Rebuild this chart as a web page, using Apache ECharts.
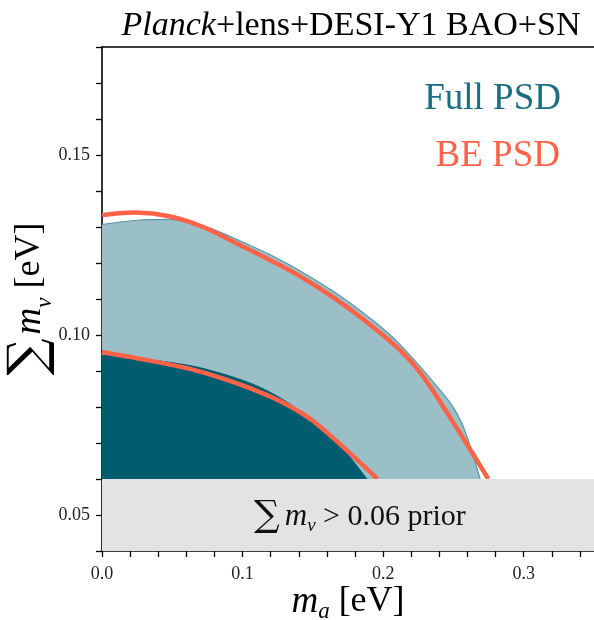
<!DOCTYPE html>
<html>
<head>
<meta charset="utf-8">
<script src="https://cdn.jsdelivr.net/npm/echarts@6/dist/echarts.min.js"></script>
<style>
  html, body { margin: 0; padding: 0; background: #ffffff; }
  #chart { width: 594px; height: 620px; }
</style>
</head>
<body>
<div id="chart"></div>
<script>
// Contour boundaries in the (m_a, sum m_nu) plane, cut at the 0.06 eV prior.
// Full phase-space distribution, 95% region
const fullPsd95 = [
  [0.000, 0.1307], [0.024, 0.1318], [0.048, 0.1321], [0.072, 0.1303],
  [0.098, 0.1262], [0.120, 0.1222], [0.141, 0.1178], [0.165, 0.1120],
  [0.188, 0.1055], [0.205, 0.1000], [0.220, 0.0940], [0.236, 0.0868],
  [0.248, 0.0810], [0.256, 0.0755], [0.262, 0.0690], [0.266, 0.0640],
  [0.269, 0.0600]
];
// Full phase-space distribution, 68% region
const fullPsd68 = [
  [0.000, 0.0944], [0.030, 0.0933], [0.0626, 0.0915], [0.085, 0.0893],
  [0.105, 0.0867], [0.120, 0.0840], [0.135, 0.0805], [0.150, 0.0763],
  [0.164, 0.0716], [0.175, 0.0668], [0.1885, 0.0600]
];
// Bose-Einstein phase-space distribution, 95% boundary
const bePsd95 = [
  [0.000, 0.1333], [0.012, 0.1338], [0.024, 0.1340], [0.048, 0.1330],
  [0.072, 0.1300], [0.098, 0.1250], [0.120, 0.1207], [0.141, 0.1163],
  [0.165, 0.1103], [0.188, 0.1037], [0.212, 0.0958], [0.2286, 0.0884],
  [0.2547, 0.0727], [0.2748, 0.0600]
];
// Bose-Einstein phase-space distribution, 68% boundary
const bePsd68 = [
  [0.000, 0.0953], [0.030, 0.0932], [0.0626, 0.0906], [0.085, 0.0880],
  [0.110, 0.0845], [0.130, 0.0810], [0.150, 0.0762], [0.174, 0.0680],
  [0.196, 0.0600]
];
// Lower edge imposed by the neutrino oscillation prior
const priorEdge = [[0.0, 0.06], [0.35, 0.06]];
const priorLabelAt = [0.1835, 0.0495];

const xLabelTicks = [0.0, 0.1, 0.2, 0.3];
const yLabelTicks = [0.05, 0.10, 0.15];

const SERIF = '"Liberation Serif", "DejaVu Serif", serif';
const OPERATOR = '"DejaVu Serif", "Liberation Serif", serif';
const TEAL_DARK = '#005c6f';
const TEAL_LIGHT = '#9bbfc6';
const TEAL_EDGE = '#5797a6';
const CORAL = '#ff6347';

const chart = echarts.init(document.getElementById('chart'), null, { renderer: 'canvas' });

const isLabelTick = (list, v) => list.some(t => Math.abs(t - v) < 1e-9);

const option = {
  backgroundColor: '#ffffff',
  animation: false,
  grid: { left: 102, right: 0, top: 47, bottom: 69, outerBoundsMode: 'none', containLabel: false },
  xAxis: [
    {
      type: 'value', min: 0, max: 0.35, interval: 0.02, position: 'bottom',
      axisLine: { show: true, lineStyle: { color: '#000', width: 1.6 } },
      axisTick: { show: true, inside: false, length: 6, lineStyle: { color: '#000', width: 1.3 } },
      splitLine: { show: false },
      axisLabel: {
        show: true, margin: 14, color: '#222', fontFamily: SERIF, fontSize: 18,
        showMaxLabel: false,
        formatter: v => isLabelTick(xLabelTicks, v) ? v.toFixed(1) : ''
      },
      name: '{m|m}{sub|a}{n| [eV]}',
      nameLocation: 'middle', nameGap: 30, nameMoveOverlap: false,
      nameTextStyle: {
        rich: {
          m: { fontFamily: SERIF, fontStyle: 'italic', fontSize: 37, color: '#000', lineHeight: 42 },
          sub: { fontFamily: SERIF, fontStyle: 'italic', fontSize: 23, color: '#000', verticalAlign: 'bottom' },
          n: { fontFamily: SERIF, fontSize: 36, color: '#000', lineHeight: 42 }
        }
      }
    },
    {
      type: 'value', min: 0, max: 0.35, position: 'top',
      axisLine: { show: true, lineStyle: { color: '#000', width: 1.6 } },
      axisTick: { show: false }, axisLabel: { show: false }, splitLine: { show: false }
    }
  ],
  yAxis: {
    type: 'value', min: 0.04, max: 0.18, interval: 0.01,
    axisLine: { show: true, lineStyle: { color: '#000', width: 1.6 } },
    axisTick: { show: true, inside: false, length: 6, lineStyle: { color: '#000', width: 1.3 } },
    splitLine: { show: false },
    axisLabel: {
      show: true, margin: 12, color: '#222', fontFamily: SERIF, fontSize: 18,
      formatter: v => isLabelTick(yLabelTicks, v) ? v.toFixed(2) : ''
    },
    name: '{s|\u2211}{m|m}{sub|\u03bd}{n| [eV]}',
    nameLocation: 'middle', nameRotate: 90, nameGap: 46, nameMoveOverlap: false,
    nameTextStyle: {
      rich: {
        s: { fontFamily: OPERATOR, fontSize: 52, color: '#000', lineHeight: 52, padding: [0, 4, 0, 0] },
        m: { fontFamily: SERIF, fontStyle: 'italic', fontSize: 37, color: '#000' },
        sub: { fontFamily: SERIF, fontStyle: 'italic', fontSize: 23, color: '#000', verticalAlign: 'bottom' },
        n: { fontFamily: SERIF, fontSize: 36, color: '#000' }
      }
    }
  },
  series: [
    {
      name: 'Full PSD 95%', type: 'line', data: fullPsd95, z: 1,
      smooth: 0.3, showSymbol: false, silent: true,
      lineStyle: { color: TEAL_EDGE, width: 1.2 },
      areaStyle: { color: TEAL_LIGHT, opacity: 1, origin: 'start' }
    },
    {
      name: 'Full PSD 68%', type: 'line', data: fullPsd68, z: 2,
      smooth: 0.3, showSymbol: false, silent: true,
      lineStyle: { color: TEAL_DARK, width: 1 },
      areaStyle: { color: TEAL_DARK, opacity: 1, origin: 'start' }
    },
    {
      name: 'BE PSD 95%', type: 'line', data: bePsd95, z: 3,
      smooth: 0.3, showSymbol: false, silent: true,
      lineStyle: { color: CORAL, width: 4.5, cap: 'butt' }
    },
    {
      name: 'BE PSD 68%', type: 'line', data: bePsd68, z: 3,
      smooth: 0.3, showSymbol: false, silent: true,
      lineStyle: { color: CORAL, width: 4.5, cap: 'butt' }
    },
    {
      name: 'prior', type: 'line', data: priorEdge, z: 5,
      showSymbol: false, silent: true,
      lineStyle: { width: 0, opacity: 0 },
      areaStyle: { color: '#e3e3e3', opacity: 1, origin: 'start' },
      markPoint: {
        silent: true, symbol: 'circle', symbolSize: 0, z: 6,
        data: [{ coord: priorLabelAt }],
        label: {
          show: true, position: 'inside',
          formatter: '{s|\u2211}{m|m}{sub|\u03bd}{t| > 0.06 prior}',
          rich: {
            s: { fontFamily: OPERATOR, fontSize: 36, color: '#111', lineHeight: 38 },
            m: { fontFamily: SERIF, fontStyle: 'italic', fontSize: 31, color: '#111', padding: [0, 0, 0, 5] },
            sub: { fontFamily: SERIF, fontStyle: 'italic', fontSize: 19, color: '#111', verticalAlign: 'bottom' },
            t: { fontFamily: SERIF, fontSize: 30, color: '#111' }
          }
        }
      }
    }
  ],
  graphic: [
    {
      type: 'text', x: 351, y: 26, z: 10,
      style: {
        text: '{i|Planck}{r|+lens+DESI-Y1 BAO+SN}',
        align: 'center', verticalAlign: 'middle',
        rich: {
          i: { fontFamily: SERIF, fontStyle: 'italic', fontSize: 34, fill: '#000' },
          r: { fontFamily: SERIF, fontSize: 34, fill: '#000' }
        }
      }
    },
    {
      type: 'text', x: 561, y: 99, z: 10,
      style: {
        text: 'Full PSD', fill: '#1a6e82', align: 'right', verticalAlign: 'middle',
        fontFamily: SERIF, fontSize: 37
      }
    },
    {
      type: 'text', x: 560, y: 156, z: 10,
      style: {
        text: 'BE PSD', fill: CORAL, align: 'right', verticalAlign: 'middle',
        fontFamily: SERIF, fontSize: 37
      }
    }
  ]
};

chart.setOption(option);
</script>
</body>
</html>
